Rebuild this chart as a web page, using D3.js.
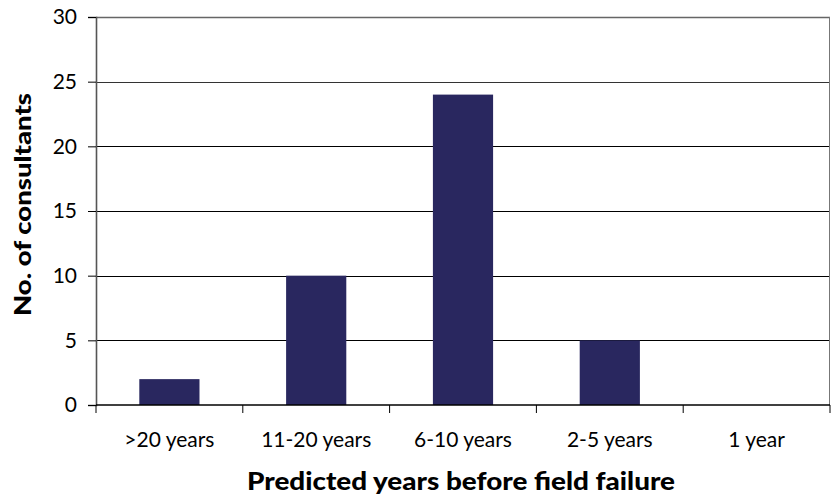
<!DOCTYPE html>
<html><head><meta charset="utf-8">
<script src="https://cdn.jsdelivr.net/npm/d3@7/dist/d3.min.js"></script>
<style>body{margin:0;background:#fff}svg{display:block}text{font-family:Lato,"Open Sans",sans-serif;fill:#000}</style>
</head><body><svg id="c" width="831" height="498"></svg>
<script>
const categories = [">20 years","11-20 years","6-10 years","2-5 years","1 year"];
const values = [2,10,24,5,0];
const yTicks = [0,5,10,15,20,25,30];
const yTitle = "No. of consultants";
const xTitle = "Predicted years before field failure";

const svg = d3.select("#c");
const m = {l:96,r:830,t:17,b:405};
const x = d3.scaleBand().domain(categories).range([m.l,m.r]).paddingInner(0.59).paddingOuter(0.295);
const xb = d3.scaleBand().domain(categories).range([m.l,m.r]);
const y = d3.scaleLinear().domain([0,30]).range([m.b,m.t]);

// gridlines
svg.append("g").selectAll("line").data(yTicks.filter(d=>d>0)).join("line")
  .attr("x1",m.l).attr("x2",m.r).attr("y1",d=>Math.round(y(d))+0.5).attr("y2",d=>Math.round(y(d))+0.5)
  .attr("stroke",d=>d===30?"#666":(d===25?"#333":"#000")).attr("stroke-width",d=>d===30?1.6:1);
// right border
svg.append("line").attr("x1",m.r-0.5).attr("x2",m.r-0.5).attr("y1",m.t).attr("y2",m.b).attr("stroke","#777");

// bars
svg.append("g").selectAll("rect").data(values).join("rect")
  .attr("x",(d,i)=>x(categories[i])).attr("width",x.bandwidth())
  .attr("y",d=>y(d)).attr("height",d=>y(0)-y(d)).attr("fill","#29275f");

// y axis
const ya = svg.append("g").attr("transform",`translate(${m.l},0)`)
  .call(d3.axisLeft(y).tickValues(yTicks).tickSize(8).tickPadding(11));
ya.select(".domain").attr("stroke","#555").attr("stroke-width",1.6);
ya.selectAll(".tick line").attr("stroke","#000");
ya.selectAll("text").attr("font-size",21).attr("font-family","Lato,sans-serif").attr("fill","#000");

// x axis with boundary ticks
const xa = svg.append("g").attr("transform",`translate(0,${m.b})`);
xa.append("line").attr("x1",m.l).attr("x2",m.r).attr("stroke","#000").attr("stroke-width",1.5);
const bounds = categories.map(c=>xb(c)).concat([m.r]);
xa.selectAll("line.t").data(bounds).join("line").attr("class","t")
  .attr("x1",d=>d).attr("x2",d=>d).attr("y1",0).attr("y2",8).attr("stroke","#000");
xa.selectAll("text").data(categories).join("text")
  .attr("x",c=>xb(c)+xb.bandwidth()/2).attr("y",42).attr("text-anchor","middle")
  .attr("font-size",21).text(d=>d);

svg.append("text").attr("x",461).attr("y",490).attr("text-anchor","middle")
  .attr("font-size",24).attr("font-weight",900)
  .attr("textLength",428).attr("lengthAdjust","spacingAndGlyphs").text(xTitle);
svg.append("text").attr("transform","translate(31,204.5) rotate(-90)").attr("text-anchor","middle")
  .attr("font-size",23).attr("font-weight",900)
  .attr("textLength",223).attr("lengthAdjust","spacingAndGlyphs").text(yTitle);
</script></body></html>
